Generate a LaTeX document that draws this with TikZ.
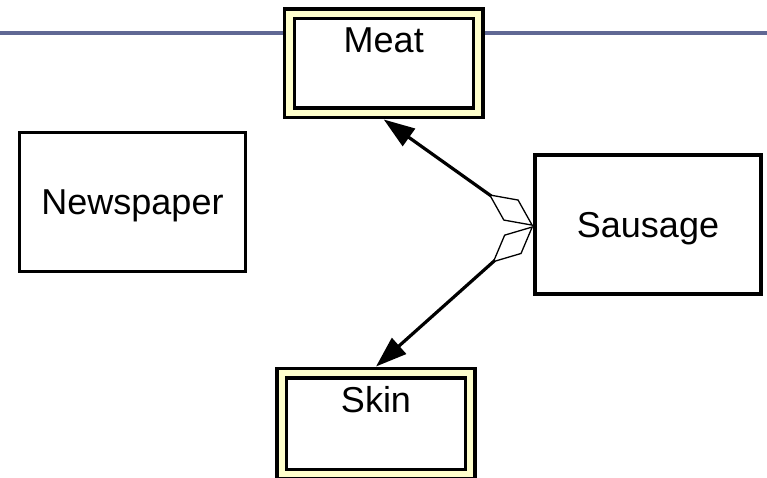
\documentclass[tikz,border=0pt]{standalone}
\usepackage{fontspec}
\setmainfont{Liberation Sans}
\usetikzlibrary{arrows.meta}
\definecolor{rulecolor}{RGB}{96,104,148}
\definecolor{paleyellow}{RGB}{255,255,204}

\begin{document}
\begin{tikzpicture}[x=1pt, y=-1pt,
  label text/.style={font=\fontsize{36}{43}\selectfont},
  entity/.style={label text, draw, line width=3.3pt, fill=white,
    minimum width=226pt, minimum height=139pt, inner sep=0pt,
    text height=25.8pt, text depth=0pt},
  weakentity/.style={label text, draw, line width=3.3pt,
    double=paleyellow, double distance=6.4pt, fill=white,
    minimum width=188.5pt, inner sep=0pt, outer sep=6.5pt,
    text height=39pt, text depth=60pt},
  relation/.style={line width=3.2pt,
    {Diamond[open, length=55pt, width=26pt, line width=1.3pt]}-{Triangle[length=31pt, width=21pt]}}
]
  \useasboundingbox (0,0) rectangle (767,478);

  % horizontal rule across the page
  \draw[rulecolor, line width=3.5pt] (0,33) -- (767,33);

  % entities
  \node[weakentity] (meat)      at (383.75,63.5) {Meat};
  \node[weakentity, text depth=62pt] (skin) at (376,423.5) {Skin};
  \node[entity]     (newspaper) at (132.5,202)   {Newspaper};
  \node[entity]     (sausage)   at (648,224.5)   {Sausage};

  % aggregation links
  \draw[relation] ([yshift=-1.5pt]sausage.west) -- (meat.south);
  \draw[relation] ([yshift=-1.5pt]sausage.west) -- (skin.north);
\end{tikzpicture}
\end{document}
